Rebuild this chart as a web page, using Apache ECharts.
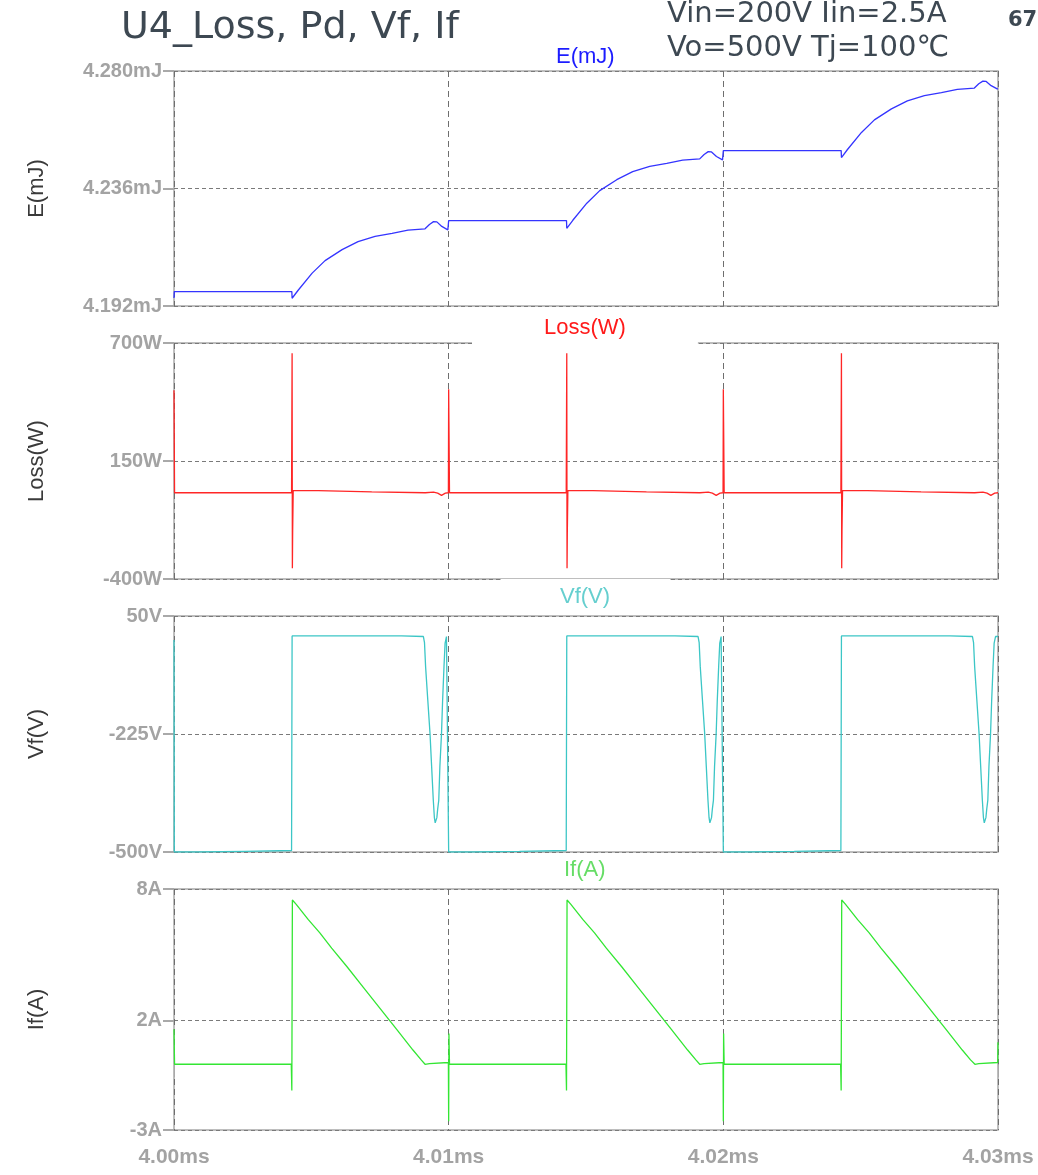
<!DOCTYPE html>
<html>
<head>
<meta charset="utf-8">
<script src="https://cdn.jsdelivr.net/npm/echarts@6/dist/echarts.min.js"></script>
<style>
  html, body { margin: 0; padding: 0; background: #fff; }
  #chart { width: 1038px; height: 1175px; }
</style>
</head>
<body>
<div id="chart"></div>
<script>
// Time axis in microseconds, labelled in ms
const timeTicks = [4000, 4010, 4020, 4030];

// Switching-loss energy E (mJ): [t(us), E]
const eTrace = [
  [4000.00, 4.1950], [4000.01, 4.1974], [4004.29, 4.1974], [4004.30, 4.1949], [4004.52, 4.1979],
  [4005.03, 4.2043], [4005.50, 4.2090], [4006.12, 4.2131], [4006.70, 4.2161], [4007.32, 4.2181],
  [4007.94, 4.2192], [4008.52, 4.2204], [4009.14, 4.2209], [4009.30, 4.2225], [4009.45, 4.2236],
  [4009.57, 4.2235], [4009.75, 4.2218], [4009.97, 4.2205], [4010.00, 4.2240],
  [4014.29, 4.2240], [4014.30, 4.2211], [4014.52, 4.2241], [4015.03, 4.2305], [4015.50, 4.2352],
  [4016.12, 4.2393], [4016.70, 4.2423], [4017.32, 4.2443], [4017.94, 4.2454], [4018.52, 4.2466],
  [4019.14, 4.2471], [4019.30, 4.2487], [4019.45, 4.2498], [4019.57, 4.2497], [4019.75, 4.2480],
  [4019.97, 4.2467], [4020.00, 4.2502],
  [4024.29, 4.2502], [4024.30, 4.2476], [4024.52, 4.2506], [4025.03, 4.2570], [4025.50, 4.2617],
  [4026.12, 4.2658], [4026.70, 4.2688], [4027.32, 4.2708], [4027.94, 4.2719], [4028.52, 4.2731],
  [4029.14, 4.2736], [4029.30, 4.2752], [4029.45, 4.2762], [4029.57, 4.2761], [4029.75, 4.2745],
  [4029.97, 4.2733], [4030.00, 4.2733]
];

// Instantaneous loss (W): [t(us), P]
const lossTrace = [
  [4000.00, 480], [4000.02, 2], [4004.28, 2], [4004.30, 652], [4004.31, -350], [4004.32, -180],
  [4004.34, 12], [4005.25, 12], [4005.26, 6], [4007.20, 6], [4007.21, 2], [4009.15, 2],
  [4009.22, 6], [4009.45, 5], [4009.60, 0], [4009.74, -10], [4009.88, 0], [4009.99, 2],
  [4010.00, 484], [4010.01, 330], [4010.03, 2],
  [4014.28, 2], [4014.30, 652], [4014.31, -350], [4014.32, -180], [4014.34, 12], [4015.25, 12],
  [4015.26, 6], [4017.20, 6], [4017.21, 2], [4019.15, 2], [4019.22, 6], [4019.45, 5],
  [4019.60, 0], [4019.74, -10], [4019.88, 0], [4019.99, 2], [4020.00, 484], [4020.01, 330],
  [4020.03, 2],
  [4024.28, 2], [4024.30, 652], [4024.31, -350], [4024.32, -180], [4024.34, 12], [4025.25, 12],
  [4025.26, 6], [4027.20, 6], [4027.21, 2], [4029.15, 2], [4029.22, 6], [4029.45, 5],
  [4029.60, 0], [4029.74, -10], [4029.88, 0], [4030.00, 2]
];

// Diode forward voltage Vf (V): [t(us), V]
const vfTrace = [
  [4000.00, -6], [4000.01, -500], [4000.88, -500], [4000.89, -498.5], [4002.58, -498.5],
  [4002.59, -496.5], [4004.28, -496.5], [4004.30, 3.5], [4008.28, 3.5], [4008.30, 2.2],
  [4009.08, 2.2], [4009.12, -12], [4009.16, -68], [4009.24, -146], [4009.32, -223],
  [4009.38, -301], [4009.44, -379], [4009.48, -420], [4009.51, -432], [4009.54, -432], [4009.57, -420],
  [4009.60, -400], [4009.64, -379], [4009.68, -301], [4009.74, -223], [4009.78, -146],
  [4009.83, -68], [4009.87, -13], [4009.92, 2.2], [4009.99, 2.2], [4010.00, -500],
  [4010.88, -500], [4010.89, -498.5], [4012.58, -498.5], [4012.59, -496.5], [4014.28, -496.5],
  [4014.30, 3.5], [4018.24, 3.5], [4018.26, 2.2], [4019.08, 2.2], [4019.12, -12],
  [4019.16, -68], [4019.24, -146], [4019.32, -223], [4019.38, -301], [4019.44, -379],
  [4019.48, -420], [4019.51, -432], [4019.54, -432], [4019.57, -420], [4019.60, -400], [4019.64, -379],
  [4019.68, -301], [4019.74, -223], [4019.78, -146], [4019.83, -68], [4019.87, -13],
  [4019.92, 2.2], [4019.99, 2.2], [4020.00, -500],
  [4020.88, -500], [4020.89, -498.5], [4022.58, -498.5], [4022.59, -496.5], [4024.28, -496.5],
  [4024.30, 3.5], [4028.25, 3.5], [4028.27, 2.2], [4029.07, 2.2], [4029.11, -12],
  [4029.15, -68], [4029.23, -146], [4029.31, -223], [4029.37, -301], [4029.43, -379],
  [4029.47, -420], [4029.50, -432], [4029.53, -432], [4029.56, -420], [4029.59, -400], [4029.63, -379],
  [4029.67, -301], [4029.73, -223], [4029.77, -146], [4029.82, -68], [4029.86, -13],
  [4029.91, 2.2], [4030.00, 2.2]
];

// Diode forward current If (A): [t(us), I]
const ifTrace = [
  [4000.00, 1.6], [4000.02, 0.0], [4004.27, 0.0], [4004.29, -1.2], [4004.31, 7.5],
  [4004.45, 7.3], [4004.89, 6.6], [4005.31, 6.0], [4005.74, 5.3], [4006.30, 4.45],
  [4006.90, 3.5], [4007.50, 2.55], [4008.10, 1.6], [4008.70, 0.65], [4009.00, 0.2],
  [4009.14, 0.0], [4009.30, 0.03], [4009.99, 0.08], [4010.00, -2.6], [4010.01, 1.4],
  [4010.03, 0.0],
  [4014.27, 0.0], [4014.29, -1.2], [4014.31, 7.5], [4014.45, 7.3], [4014.89, 6.6],
  [4015.31, 6.0], [4015.74, 5.3], [4016.30, 4.45], [4016.90, 3.5], [4017.50, 2.55],
  [4018.10, 1.6], [4018.70, 0.65], [4019.00, 0.2], [4019.14, 0.0], [4019.30, 0.03],
  [4019.99, 0.08], [4020.00, -2.6], [4020.01, 1.4], [4020.03, 0.0],
  [4024.27, 0.0], [4024.29, -1.2], [4024.31, 7.5], [4024.45, 7.3], [4024.89, 6.6],
  [4025.31, 6.0], [4025.74, 5.3], [4026.30, 4.45], [4026.90, 3.5], [4027.50, 2.55],
  [4028.10, 1.6], [4028.70, 0.65], [4029.00, 0.2], [4029.16, 0.0], [4029.30, 0.03],
  [4029.99, 0.08], [4030.00, 1.0]
];

// Y tick values of each panel
const eTicks = [4.192, 4.236, 4.280];
const lossTicks = [-400, 150, 700];
const vfTicks = [-500, -225, 50];
const ifTicks = [-3, 2, 8];

const panels = [
  { name: 'E(mJ)',    ticks: eTicks,    data: eTrace,    color: '#3434ff', fmt: v => v.toFixed(3) + 'mJ', top: 71,  height: 235 },
  { name: 'Loss(W)',  ticks: lossTicks, data: lossTrace, color: '#ff2626', fmt: v => v + 'W',             top: 343, height: 236 },
  { name: 'Vf(V)',    ticks: vfTicks,   data: vfTrace,   color: '#3cc6c6', fmt: v => v + 'V',             top: 616, height: 236 },
  { name: 'If(A)',    ticks: ifTicks,   data: ifTrace,   color: '#33e633', fmt: v => v + 'A',             top: 889, height: 241 }
];

const tickFont = "'Liberation Sans', Arial, sans-serif";
const gray = '#a9a9a9';

const chart = echarts.init(document.getElementById('chart'), null, { renderer: 'canvas' });

const option = {
  backgroundColor: '#ffffff',
  animation: false,
  title: [
    { text: 'U4_Loss, Pd, Vf, If', left: 121, top: 9, padding: 0,
      textStyle: { fontFamily: "'DejaVu Sans', sans-serif", fontSize: 38, fontWeight: 'normal', color: '#3d4852' } },
    { text: 'Vin=200V Iin=2.5A', left: 667, top: 0, padding: 0,
      textStyle: { fontFamily: "'DejaVu Sans', 'Noto Sans CJK JP', sans-serif", fontSize: 29, fontWeight: 'normal', color: '#3d4852' } },
    { text: 'Vo=500V Tj=100℃', left: 667, top: 34, padding: 0,
      textStyle: { fontFamily: "'DejaVu Sans', 'Noto Sans CJK JP', sans-serif", fontSize: 29, fontWeight: 'normal', color: '#3d4852' } },
    { text: '67', left: 1008, top: 10, padding: 0,
      textStyle: { fontFamily: "'DejaVu Sans', sans-serif", fontSize: 21, fontWeight: 'bold', color: '#3d4852' } },
    { text: 'E(mJ)', left: 556, top: 46, padding: 0,
      textStyle: { fontFamily: "'Liberation Sans', Arial, sans-serif", fontSize: 22, fontWeight: 'normal', color: '#1c1cff' } },
    { text: 'Loss(W)', left: 472, top: 310, padding: [7, 72, 6, 72], backgroundColor: '#ffffff',
      textStyle: { fontFamily: "'Liberation Sans', Arial, sans-serif", fontSize: 22, fontWeight: 'normal', color: '#ff1a1a' } },
    { text: 'Vf(V)', left: 501, top: 579, padding: [7, 60, 6, 59], backgroundColor: '#ffffff',
      textStyle: { fontFamily: "'Liberation Sans', Arial, sans-serif", fontSize: 22, fontWeight: 'normal', color: '#66cfcf' } },
    { text: 'If(A)', left: 564, top: 859, padding: 0,
      textStyle: { fontFamily: "'Liberation Sans', Arial, sans-serif", fontSize: 22, fontWeight: 'normal', color: '#66dd66' } }
  ],
  grid: panels.map(p => ({
    left: 174, right: 40, top: p.top, height: p.height,
    outerBoundsMode: 'none', containLabel: false,
    show: true, borderColor: gray, borderWidth: 1.5, backgroundColor: 'transparent'
  })),
  xAxis: panels.map((p, i) => ({
    type: 'value', gridIndex: i, min: timeTicks[0], max: timeTicks[timeTicks.length - 1], interval: 10,
    axisLine: { show: false },
    axisTick: { show: i === 3, length: 13, lineStyle: { color: gray, width: 1 } },
    axisLabel: {
      show: i === 3, margin: 17, hideOverlap: false,
      formatter: v => (v / 1000).toFixed(2) + 'ms',
      fontFamily: tickFont, fontSize: 21, fontWeight: 'bold', color: '#a3a3a3'
    },
    splitLine: { show: true, lineStyle: { color: '#6e6e6e', width: 1, type: [6, 4] } }
  })),
  yAxis: panels.map((p, i) => ({
    type: 'value', gridIndex: i, min: p.ticks[0], max: p.ticks[2],
    name: p.name, nameLocation: 'middle', nameGap: 126,
    nameTextStyle: { fontFamily: "'Liberation Sans', Arial, sans-serif", fontSize: 22, color: '#3a3a3a' },
    axisLine: { show: false },
    axisTick: { show: true, length: 11, customValues: p.ticks, lineStyle: { color: gray, width: 2 } },
    axisLabel: {
      show: true, margin: 12, customValues: p.ticks, formatter: p.fmt,
      fontFamily: tickFont, fontSize: 20, fontWeight: 'bold', color: '#a3a3a3'
    },
    splitLine: { show: true, lineStyle: { color: '#7a7a7a', width: 1, type: [4, 3] } }
  })),
  series: panels.map((p, i) => ({
    type: 'line', xAxisIndex: i, yAxisIndex: i, data: p.data,
    showSymbol: false, symbol: 'none', sampling: null, clip: true,
    lineStyle: { color: p.color, width: 1.3 }
  }))
};

chart.setOption(option);
</script>
</body>
</html>
